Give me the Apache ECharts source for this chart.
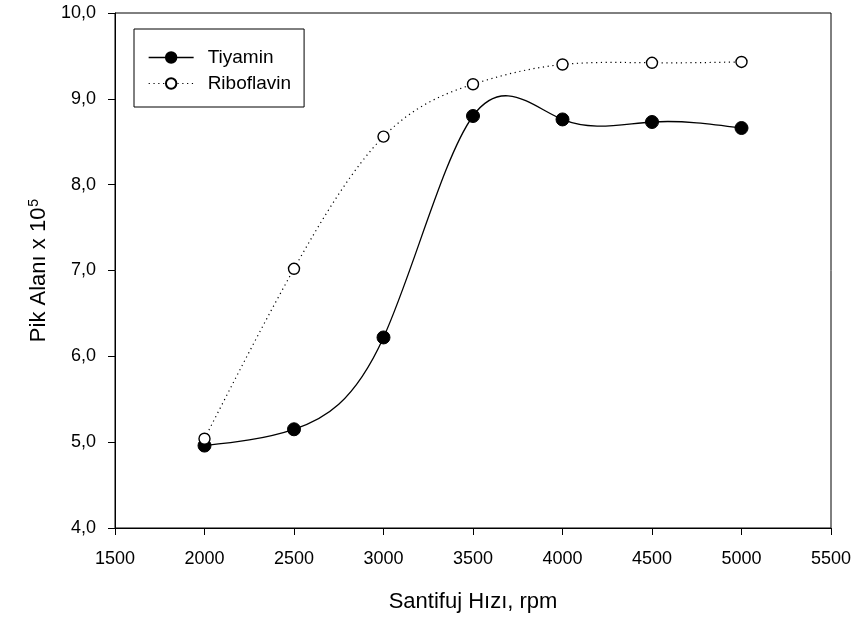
<!DOCTYPE html>
<html>
<head>
<meta charset="utf-8">
<script src="https://cdn.jsdelivr.net/npm/echarts@6/dist/echarts.min.js"></script>
<style>html,body{margin:0;padding:0;background:#fff}#c{width:857px;height:621px}</style>
</head>
<body>
<div id="c"></div>
<script>
var rpm = [2000, 2500, 3000, 3500, 4000, 4500, 5000];
var tiyamin = [4.96, 5.15, 6.22, 8.80, 8.76, 8.73, 8.66];
var riboflavin = [5.04, 7.02, 8.56, 9.17, 9.40, 9.42, 9.43];
var xTicks = [1500, 2000, 2500, 3000, 3500, 4000, 4500, 5000, 5500];
var yTicks = ['4,0', '5,0', '6,0', '7,0', '8,0', '9,0', '10,0'];
var xTitle = 'Santifuj Hızı, rpm';
var yTitle = 'Pik Alanı x 10';

function pairs(xs, ys){ return xs.map(function(x,i){return [x, ys[i]];}); }

// natural cubic spline second derivatives (for drawing the smooth connecting curve)
function splineM(xs, ys){
  var n = xs.length, M = new Array(n).fill(0);
  if (n < 3) return M;
  var a = [], b = [], c = [], d = [];
  for (var i = 1; i < n - 1; i++) {
    var h0 = xs[i] - xs[i-1], h1 = xs[i+1] - xs[i];
    a.push(h0); b.push(2 * (h0 + h1)); c.push(h1);
    d.push(6 * ((ys[i+1] - ys[i]) / h1 - (ys[i] - ys[i-1]) / h0));
  }
  var m = b.length;
  for (var k = 1; k < m; k++) {
    var w = a[k] / b[k-1];
    b[k] -= w * c[k-1]; d[k] -= w * d[k-1];
  }
  var sol = new Array(m);
  sol[m-1] = d[m-1] / b[m-1];
  for (var k2 = m - 2; k2 >= 0; k2--) sol[k2] = (d[k2] - c[k2] * sol[k2+1]) / b[k2];
  for (var j = 0; j < m; j++) M[j+1] = sol[j];
  return M;
}

function curveSeries(xs, ys, dash, width){
  var M = splineM(xs, ys);
  return {
    type: 'custom', z: 1, silent: true,
    data: pairs(xs, ys),
    encode: {x: 0, y: 1},
    renderItem: function(params, api){
      var i = params.dataIndex;
      if (i >= xs.length - 1) return null;
      var x0 = xs[i], x1 = xs[i+1], y0 = ys[i], y1 = ys[i+1], h = x1 - x0;
      var s = (y1 - y0) / h;
      var d0 = s - h * (2 * M[i] + M[i+1]) / 6;
      var d1 = s + h * (M[i] + 2 * M[i+1]) / 6;
      var p0 = api.coord([x0, y0]);
      var c1 = api.coord([x0 + h / 3, y0 + d0 * h / 3]);
      var c2 = api.coord([x1 - h / 3, y1 - d1 * h / 3]);
      var p1 = api.coord([x1, y1]);
      return {
        type: 'bezierCurve',
        shape: {x1: p0[0], y1: p0[1], cpx1: c1[0], cpy1: c1[1], cpx2: c2[0], cpy2: c2[1], x2: p1[0], y2: p1[1]},
        style: {stroke: '#000', fill: null, lineWidth: width, lineDash: dash}
      };
    }
  };
}

var chart = echarts.init(document.getElementById('c'));
var font = 'Liberation Sans, Arial, sans-serif';
chart.setOption({
  animation: false,
  backgroundColor: '#fff',
  textStyle: {fontFamily: font},
  grid: {left: 115, right: 26, top: 13, bottom: 93, show: true, borderColor: '#000', borderWidth: 1, backgroundColor: 'transparent'},
  legend: {
    left: 134, top: 29, orient: 'vertical',
    data: [
      {name: 'Tiyamin', lineStyle: {color: '#000', width: 1.3, type: 'solid', opacity: 1}},
      {name: 'Riboflavin', lineStyle: {color: '#000', width: 1.2, type: [1.2, 3.6], opacity: 1}}
    ],
    borderColor: '#000', borderWidth: 1,
    padding: [19, 13, 14, 14],
    itemWidth: 45, itemHeight: 13, itemGap: 7,
    textStyle: {fontFamily: font, fontSize: 19, color: '#000', padding: [0, 0, 0, 9]}
  },
  xAxis: {
    type: 'value', min: xTicks[0], max: xTicks[xTicks.length-1], interval: xTicks[1] - xTicks[0],
    name: xTitle, nameLocation: 'middle', nameGap: 63,
    nameTextStyle: {fontFamily: font, fontSize: 22, color: '#000'},
    axisLine: {show: true, lineStyle: {color: '#000', width: 1}},
    axisTick: {show: true, length: 7, lineStyle: {color: '#000'}},
    axisLabel: {fontFamily: font, fontSize: 18, color: '#000', margin: 22,
      formatter: function(v){ return String(v); }},
    splitLine: {show: false}
  },
  yAxis: {
    type: 'value', min: 4, max: 10, interval: 1,
    name: '{a|' + yTitle + '}{s|5}', nameLocation: 'middle', nameGap: 63,
    nameTextStyle: {rich: {
      a: {fontFamily: font, fontSize: 22, color: '#000'},
      s: {fontFamily: font, fontSize: 14, color: '#000', verticalAlign: 'top', padding: [0, 0, 10, 1]}
    }},
    axisLine: {show: true, lineStyle: {color: '#000', width: 1}},
    axisTick: {show: true, length: 7, lineStyle: {color: '#000'}},
    axisLabel: {fontFamily: font, fontSize: 18, color: '#000', margin: 19,
      formatter: function(v){ return yTicks[Math.round(v) - 4]; }},
    splitLine: {show: false}
  },
  series: [
    curveSeries(rpm, tiyamin, null, 1.3),
    curveSeries(rpm, riboflavin, [1.2, 3.6], 1.2),
    {
      name: 'Tiyamin', type: 'line', z: 3, data: pairs(rpm, tiyamin),
      symbol: 'circle', symbolSize: 13,
      itemStyle: {color: '#000', borderColor: '#000', borderWidth: 1},
      lineStyle: {width: 0, opacity: 0}
    },
    {
      name: 'Riboflavin', type: 'line', z: 3, data: pairs(rpm, riboflavin),
      symbol: 'circle', symbolSize: 11,
      itemStyle: {color: '#fff', borderColor: '#000', borderWidth: 1.4},
      lineStyle: {width: 0, opacity: 0}
    }
  ]
});
</script>
</body>
</html>
